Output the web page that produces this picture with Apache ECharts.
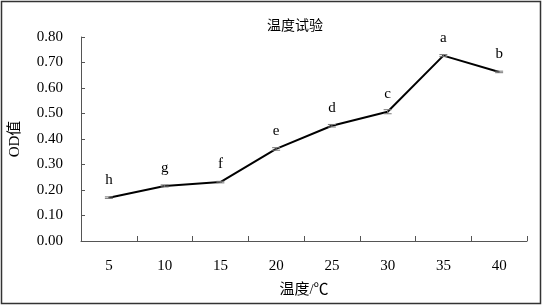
<!DOCTYPE html>
<html>
<head>
<meta charset="utf-8">
<script src="https://cdn.jsdelivr.net/npm/echarts@6/dist/echarts.min.js"></script>
<style>
html, body { margin: 0; padding: 0; background: #fff; }
#main { width: 543px; height: 306px; }
</style>
</head>
<body>
<div id="main"></div>
<script>
// 温度（℃）
var temps = ['5', '10', '15', '20', '25', '30', '35', '40'];
// OD值
var odValues = [0.170, 0.216, 0.231, 0.361, 0.452, 0.507, 0.727, 0.663];
// 误差
var odErrors = [0.003, 0.004, 0.003, 0.005, 0.005, 0.008, 0.004, 0.003];
// 显著性字母
var letters = ['h', 'g', 'f', 'e', 'd', 'c', 'a', 'b'];

var font = '"Liberation Serif", "Noto Sans CJK SC", serif';

var chart = echarts.init(document.getElementById('main'));

var errData = [];
for (var i = 0; i < temps.length; i++) {
    errData.push([i, odValues[i] - odErrors[i], odValues[i] + odErrors[i]]);
}

var option = {
    animation: false,
    backgroundColor: '#fff',
    title: {
        text: '温度试验',
        left: 262,
        top: 14,
        textStyle: { fontFamily: font, fontSize: 14, fontWeight: 'normal', color: '#000' }
    },
    graphic: [{
        type: 'rect',
        shape: { x: 1.5, y: 1.5, width: 539, height: 302 },
        style: { fill: 'none', stroke: '#333', lineWidth: 1.5 },
        silent: true
    }],
    grid: { left: 77, right: 16, top: 37, bottom: 65 },
    xAxis: {
        type: 'category',
        data: temps,
        name: '温度/℃',
        nameLocation: 'middle',
        nameGap: 42,
        nameTextStyle: { fontFamily: font, fontSize: 15, color: '#000' },
        axisLine: { show: true, lineStyle: { color: '#555', width: 1 } },
        axisTick: { show: true, inside: true, length: 5, lineStyle: { color: '#555' } },
        axisLabel: { fontFamily: font, fontSize: 15, color: '#000', margin: 18 },
        splitLine: { show: false }
    },
    yAxis: {
        type: 'value',
        min: 0,
        max: 0.8,
        interval: 0.1,
        name: 'OD值',
        nameLocation: 'middle',
        nameGap: 58,
        nameTextStyle: { fontFamily: font, fontSize: 15, color: '#000' },
        axisLine: { show: true, lineStyle: { color: '#555', width: 1 } },
        axisTick: { show: true, inside: true, length: 4, lineStyle: { color: '#555' } },
        axisLabel: {
            fontFamily: font, fontSize: 15, color: '#000', margin: 18,
            formatter: function (v) { return v.toFixed(2); }
        },
        splitLine: { show: false }
    },
    series: [{
        type: 'line',
        data: odValues,
        symbol: 'circle',
        symbolSize: 1,
        showSymbol: true,
        itemStyle: { color: '#000' },
        lineStyle: { color: '#000', width: 2 },
        label: {
            show: true,
            position: 'top',
            distance: 10,
            fontFamily: font,
            fontSize: 15,
            color: '#000',
            formatter: function (p) { return letters[p.dataIndex]; }
        },
        z: 3
    }, {
        type: 'custom',
        data: errData,
        z: 4,
        renderItem: function (params, api) {
            var lo = api.coord([api.value(0), api.value(1)]);
            var hi = api.coord([api.value(0), api.value(2)]);
            var w = 4;
            var st = { stroke: '#777', lineWidth: 1 };
            return {
                type: 'group',
                children: [
                    { type: 'line', shape: { x1: lo[0], y1: lo[1], x2: hi[0], y2: hi[1] }, style: st },
                    { type: 'line', shape: { x1: lo[0] - w, y1: lo[1], x2: lo[0] + w, y2: lo[1] }, style: st },
                    { type: 'line', shape: { x1: hi[0] - w, y1: hi[1], x2: hi[0] + w, y2: hi[1] }, style: st }
                ]
            };
        }
    }]
};

chart.setOption(option);
</script>
</body>
</html>
